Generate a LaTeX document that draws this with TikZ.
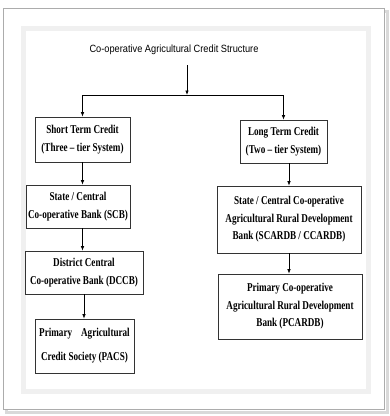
\documentclass[tikz,border=0pt]{standalone}
\usepackage{fontspec}
\setmainfont{Liberation Serif}
\newfontfamily\titlefont[FakeStretch=0.88]{Liberation Sans}
\newfontfamily\boxfont[FakeStretch=0.76]{Liberation Serif}
\usetikzlibrary{shapes,arrows.meta}

\tikzset{
  blk/.style={shape=rectangle,draw=black!80,line width=0.6pt,align=center,inner sep=0pt,
    font=\boxfont\bfseries\fontsize{12}{17.5}\selectfont},
  arr/.style={-{Latex[length=4.5pt,width=3.5pt]},draw=black,line width=0.7pt}
}

\begin{document}
\begin{tikzpicture}[x=1pt,y=-1pt]
\useasboundingbox (0,0) rectangle (390,416);
% frame
\draw[draw=gray!30,line width=3pt] (6,11) rectangle (387,412);
\draw[fill=white,draw=gray!65,line width=1pt] (3,8) rectangle (384,409);
\draw[draw=gray!12,line width=5pt] (23.5,28.5) rectangle (368,391);

\node[font=\titlefont\fontsize{10.5}{12}\selectfont] (title) at (174,50) {Co-operative Agricultural Credit Structure};
\coordinate (top) at (187,65);
\coordinate (split) at (187,95);

\node[blk,minimum width=95pt,minimum height=45pt] (short) at (82.5,139.5) {Short Term Credit\\(Three – tier System)};
\node[blk,minimum width=87pt,minimum height=43pt] (long) at (283.5,141.5) {Long Term Credit\\(Two – tier System)};
\node[blk,minimum width=104pt,minimum height=43pt] (scb) at (78,206.5) {State / Central\\Co-operative Bank (SCB)};
\node[blk,minimum width=118pt,minimum height=43pt] (dccb) at (84,272.5) {District Central\\Co-operative Bank (DCCB)};
\node[blk,minimum width=99pt,minimum height=54pt,font=\boxfont\bfseries\fontsize{12}{24}\selectfont] (pacs) at (84.5,346) {Primary\hspace{9pt}Agricultural\\Credit Society (PACS)};
\node[blk,minimum width=144pt,minimum height=67pt] (scardb) at (289,219.5) {State / Central Co-operative\\Agricultural Rural Development\\Bank (SCARDB / CCARDB)};
\node[blk,minimum width=144pt,minimum height=65pt] (pcardb) at (290,306.5) {Primary Co-operative\\Agricultural Rural Development\\Bank (PCARDB)};

\draw[arr] (top) -- (split);
\draw[line width=0.7pt] (split -| short.north) -- (split -| long.north);
\draw[arr] (split -| short.north) -- (short.north);
\draw[arr] (split -| long.north) -- (long.north);
\draw[arr] (short.south) -- (short.south |- scb.north);
\draw[arr] (scb.south -| short.south) -- (dccb.north -| short.south);
\draw[arr] (dccb.south) -- (dccb.south |- pacs.north);
\draw[arr] (long.south -| scardb.north) -- (scardb.north);
\draw[arr] (scardb.south) -- (scardb.south |- pcardb.north);
\end{tikzpicture}
\end{document}
